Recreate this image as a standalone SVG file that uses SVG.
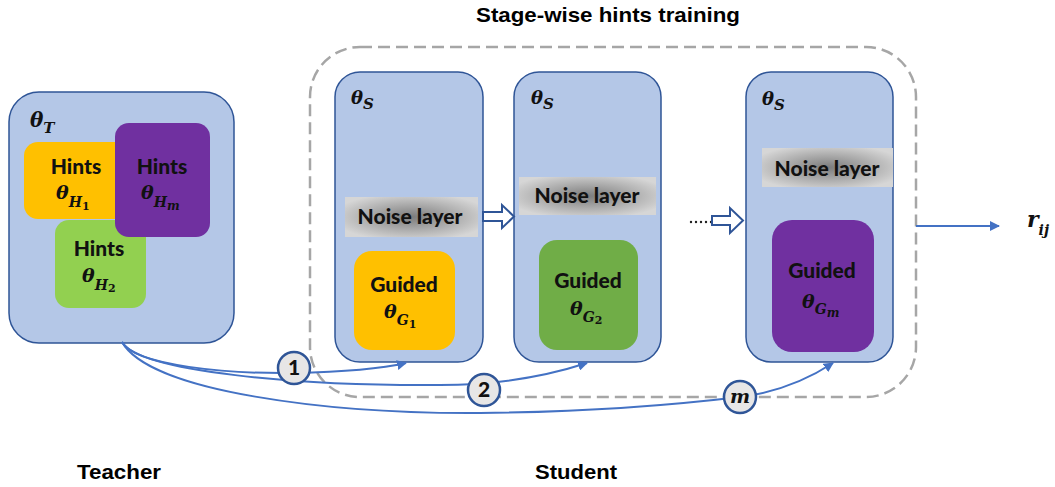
<svg xmlns="http://www.w3.org/2000/svg" width="1055" height="487" viewBox="0 0 1055 487">
<defs>
<style>
.box{fill:#B4C7E7;stroke:#2F5597;stroke-width:1.5}
.lbl{font-family:Lato,"Open Sans","Liberation Sans",sans-serif;font-weight:900;font-size:21px;fill:#111;text-anchor:middle}
.m{font-family:"DejaVu Serif","Liberation Serif",serif;font-weight:bold;font-style:italic;fill:#111}
.d{font-style:normal}
.cap{font-family:"Liberation Sans",Arial,sans-serif;font-weight:bold;font-size:21px;fill:#000}
.conn{fill:none;stroke:#4472C4;stroke-width:2}
.hollow{fill:#fff;stroke:#2F5597;stroke-width:2}
.badge{fill:#E7E6E6;stroke:#2F5597;stroke-width:2.5}
</style>
<radialGradient id="noise" cx="0.5" cy="0.5" r="0.6">
<stop offset="0" stop-color="#7c7c7c"/>
<stop offset="0.5" stop-color="#a9a9a9"/>
<stop offset="1" stop-color="#d6d6d6"/>
</radialGradient>
<marker id="ah" viewBox="0 0 10 10" refX="9" refY="5" markerWidth="5" markerHeight="5" orient="auto" markerUnits="strokeWidth">
<path d="M0,0 L10,5 L0,10 Z" fill="#4472C4"/>
</marker>
</defs>

<rect width="1055" height="487" fill="#fff"/>

<text class="cap" x="608" y="22" text-anchor="middle" textLength="264" lengthAdjust="spacingAndGlyphs">Stage-wise hints training</text>

<g id="stage-container">
<rect x="310" y="47" width="606" height="350" rx="50" fill="none" stroke="#A6A6A6" stroke-width="2.5" stroke-dasharray="12 6"/>
</g>

<g id="teacher">
<rect class="box" x="9" y="92" width="225" height="251" rx="30"/>
<text class="m" x="30" y="127" font-size="20">θ<tspan font-size="15" y="133">T</tspan></text>
<g id="hint1">
<rect x="24" y="142" width="112" height="77" rx="14" fill="#FFC000"/>
<text class="lbl" x="76" y="174">Hints</text>
<text class="m" x="56" y="199" font-size="19">θ<tspan font-size="14" y="207">H</tspan><tspan class="d" font-size="11" y="210">1</tspan></text>
</g>
<g id="hint2">
<rect x="55" y="220" width="91" height="88" rx="14" fill="#92D050"/>
<text class="lbl" x="99" y="256">Hints</text>
<text class="m" x="82" y="282" font-size="19">θ<tspan font-size="14" y="290">H</tspan><tspan class="d" font-size="11" y="292">2</tspan></text>
</g>
<g id="hintm">
<rect x="115" y="123" width="95" height="114" rx="14" fill="#7030A0"/>
<text class="lbl" x="162" y="174">Hints</text>
<text class="m" x="141" y="199" font-size="19">θ<tspan font-size="14" y="207">H</tspan><tspan font-size="12" y="210">m</tspan></text>
</g>
</g>

<g id="student1">
<rect class="box" x="335" y="72" width="148" height="290" rx="25"/>
<text class="m" x="351" y="104" font-size="18">θ<tspan font-size="15" y="109">S</tspan></text>
<rect x="345" y="197" width="133" height="40" fill="url(#noise)"/>
<text class="lbl" x="410" y="224">Noise layer</text>
<rect x="354" y="251" width="101" height="99" rx="18" fill="#FFC000"/>
<text class="lbl" x="404" y="292">Guided</text>
<text class="m" x="384" y="318" font-size="19">θ<tspan font-size="14" y="325">G</tspan><tspan class="d" font-size="11" y="328">1</tspan></text>
</g>

<g id="student2">
<rect class="box" x="514" y="72" width="147" height="290" rx="25"/>
<text class="m" x="531" y="104" font-size="18">θ<tspan font-size="15" y="109">S</tspan></text>
<rect x="519" y="177" width="137" height="38" fill="url(#noise)"/>
<text class="lbl" x="587" y="203">Noise layer</text>
<rect x="539" y="240" width="99" height="110" rx="18" fill="#70AD47"/>
<text class="lbl" x="588" y="288">Guided</text>
<text class="m" x="570" y="315" font-size="19">θ<tspan font-size="14" y="322">G</tspan><tspan class="d" font-size="11" y="324">2</tspan></text>
</g>

<g id="student3">
<rect class="box" x="746" y="72" width="147" height="290" rx="25"/>
<text class="m" x="762" y="105" font-size="18">θ<tspan font-size="15" y="110">S</tspan></text>
<rect x="762" y="148" width="131" height="39" fill="url(#noise)"/>
<text class="lbl" x="827" y="176">Noise layer</text>
<rect x="772" y="220" width="102" height="132" rx="20" fill="#7030A0"/>
<text class="lbl" x="822" y="278">Guided</text>
<text class="m" x="802" y="308" font-size="19">θ<tspan font-size="14" y="314">G</tspan><tspan font-size="12" y="317">m</tspan></text>
</g>

<g id="connectors">
<path class="hollow" d="M483,212 L502,212 L502,205 L514,216.5 L502,228 L502,221 L483,221 Z"/>
<line x1="691" y1="222" x2="716" y2="222" stroke="#222" stroke-width="2.4" stroke-linecap="round" stroke-dasharray="0 5"/>
<path class="hollow" d="M712,216 L730,216 L730,208 L743,220.5 L730,233 L730,225 L712,225 Z"/>
<line class="conn" x1="916" y1="226" x2="999" y2="226" marker-end="url(#ah)"/>
<path class="conn" d="M122,342 C135,366 230,374 294,373 C340,372 380,369 406,363" marker-end="url(#ah)"/>
<path class="conn" d="M122,342 C140,372 300,386 440,385 C505,385 550,375 587,363" marker-end="url(#ah)"/>
<path class="conn" d="M122,342 C150,392 330,414 480,413 C600,412 690,403 740,397 C780,392 810,378 833,363" marker-end="url(#ah)"/>
</g>

<g id="badge1">
<circle class="badge" cx="294" cy="368" r="16"/>
<text class="lbl" x="294" y="375">1</text>
</g>
<g id="badge2">
<circle class="badge" cx="484" cy="390" r="16"/>
<text class="lbl" x="484" y="397">2</text>
</g>
<g id="badgem">
<circle class="badge" cx="740" cy="397" r="16"/>
<text class="m" x="740" y="403" font-size="19" text-anchor="middle">m</text>
</g>

<text class="m" x="1027" y="227" font-size="22">r<tspan font-size="14" y="235">ij</tspan></text>

<text class="cap" x="77" y="479" textLength="84" lengthAdjust="spacingAndGlyphs">Teacher</text>
<text class="cap" x="535" y="479" textLength="82" lengthAdjust="spacingAndGlyphs">Student</text>
</svg>
